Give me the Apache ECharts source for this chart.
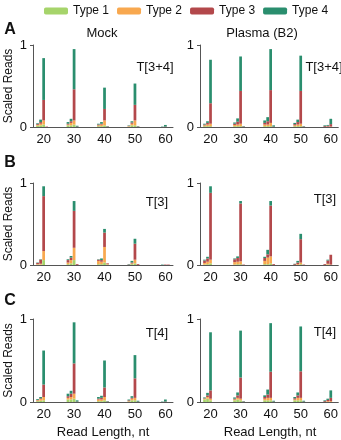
<!DOCTYPE html>
<html>
<head>
<meta charset="utf-8">
<script src="https://cdn.jsdelivr.net/npm/echarts@6/dist/echarts.min.js"></script>
<style>
  html, body { margin: 0; padding: 0; background: #fff; }
  #chart { width: 341px; height: 440px; }
</style>
</head>
<body>
<div id="chart"></div>
<script>
// read lengths shown on the x axis
var categories = ['17','18','19','20','21','22','23','24','25','26','27','28','29','30','31','32','33','34','35','36','37','38','39','40','41','42','43','44','45','46','47','48','49','50','51','52','53','54','55','56','57','58','59','60','61','62'];
// lengths that carry a bar
var positions = [18,19,20,21, 28,29,30,31, 38,39,40,41, 48,49,50,51, 58,59,60,61];
var typeNames = ['Type 1', 'Type 2', 'Type 3', 'Type 4'];
var colors = ['#a6d46b', '#f8a84f', '#b3484b', '#2a8e6e'];

// A  T[3+4]
var mockA_t1 = [.015,.02,.03,0, .02,.02,.03,0, .01,.01,.02,0, .005,.02,.02,0, 0,0,0,0];
var mockA_t2 = [.01,.02,.05,0, .01,.03,.05,0, .01,.02,.06,0, .005,.02,.06,0, 0,0,0,0];
var mockA_t3 = [.01,.02,.25,.005, .01,.02,.38,.005, .01,.01,.14,.005, .005,.015,.19,.005, 0,0,.005,0];
var mockA_t4 = [.01,.03,.51,0, .02,.03,.49,.01, .01,.02,.26,.005, .005,.015,.26,.005, 0,.005,.02,0];
var plasmaA_t1 = [.01,.01,.01,0, .01,.01,.01,0, .01,.01,.01,0, .01,.01,.01,0, 0,0,0,0];
var plasmaA_t2 = [.01,.02,.03,0, .015,.02,.03,0, .02,.02,.04,0, .01,.02,.03,0, 0,.005,.005,0];
var plasmaA_t3 = [.01,.02,.25,0, .015,.035,.40,.005, .02,.04,.40,.005, .015,.03,.40,.005, .01,.01,.03,0];
var plasmaA_t4 = [.01,.02,.53,0, .015,.04,.42,.005, .03,.05,.50,.015, .015,.03,.43,.005, .01,.01,.065,0];

// B  T[3]
var mockB_t1 = [.005,.005,.06,0, .01,.02,.06,0, .01,.01,.03,.005, 0,.01,.02,0, 0,0,0,0];
var mockB_t2 = [.005,.01,.11,0, .02,.04,.15,0, .04,.03,.19,.005, 0,.01,.045,0, 0,0,0,0];
var mockB_t3 = [.015,.05,.67,0, .03,.03,.45,.01, .015,.02,.175,.01, .005,.01,.195,.01, 0,0,.005,.005];
var mockB_t4 = [.005,.005,.12,0, .01,.02,.12,0, .005,.02,.045,0, .005,.02,.06,0, 0,.005,0,0];
var plasmaB_t1 = [.005,.01,.02,0, .005,.01,.01,0, .01,.01,.02,0, 0,0,.01,0, 0,.005,0,0];
var plasmaB_t2 = [.02,.03,.045,0, .03,.03,.035,0, .04,.08,.085,0, 0,.01,.02,0, 0,.01,.005,0];
var plasmaB_t3 = [.03,.04,.815,0, .035,.045,.705,.005, .035,.04,.62,.01, .01,.02,.285,.005, .01,.04,.12,0];
var plasmaB_t4 = [.01,.02,.08,0, .01,.02,.03,0, .015,.055,.055,0, .005,.02,.065,0, 0,.01,0,0];

// C  T[4]
var mockC_t1 = [.01,.015,.02,0, .03,.03,.04,0, .01,.01,.02,0, .005,.02,.02,0, 0,0,0,0];
var mockC_t2 = [.01,.02,.04,0, .02,.03,.06,0, .02,.02,.04,0, .005,.02,.03,0, 0,0,0,0];
var mockC_t3 = [.005,.01,.15,0, .02,.04,.365,.005, .01,.02,.115,.005, .01,.01,.235,.005, 0,0,.005,0];
var mockC_t4 = [.01,.015,.41,0, .03,.035,.495,.015, .02,.025,.325,.005, .01,.02,.28,.01, 0,.005,.025,0];
var plasmaC_t1 = [.03,.04,.02,0, .02,.03,.02,0, .02,.02,.02,0, .02,.02,.02,0, 0,0,0,0];
var plasmaC_t2 = [.01,.02,.02,0, .01,.02,.02,0, .02,.03,.03,0, .01,.03,.03,0, 0,.01,.01,0];
var plasmaC_t3 = [.005,.02,.10,0, .01,.03,.255,.005, .02,.04,.315,.005, .015,.03,.32,.005, .01,.015,.04,0];
var plasmaC_t4 = [.01,.03,.70,0, .015,.035,.565,.005, .02,.06,.585,.01, .015,.035,.54,.01, .01,.015,.09,0];

var panels = [
  { left: 33,  top: 45,  h: 82, data: [mockA_t1, mockA_t2, mockA_t3, mockA_t4] },
  { left: 200, top: 45,  h: 82, data: [plasmaA_t1, plasmaA_t2, plasmaA_t3, plasmaA_t4] },
  { left: 33,  top: 183, h: 82, data: [mockB_t1, mockB_t2, mockB_t3, mockB_t4] },
  { left: 200, top: 183, h: 82, data: [plasmaB_t1, plasmaB_t2, plasmaB_t3, plasmaB_t4] },
  { left: 33,  top: 319, h: 83, data: [mockC_t1, mockC_t2, mockC_t3, mockC_t4] },
  { left: 200, top: 319, h: 83, data: [plasmaC_t1, plasmaC_t2, plasmaC_t3, plasmaC_t4] }
];

function toCategoryData (vals) {
  return categories.map(function (c) {
    var i = positions.indexOf(Number(c));
    return i < 0 ? 0 : vals[i];
  });
}
function isTen (idx, val) { return Number(val) % 10 === 0; }

var font = 'Liberation Sans, Arial, sans-serif';
var grids = [], xAxes = [], yAxes = [], series = [];
panels.forEach(function (p, k) {
  grids.push({ left: p.left, top: p.top, width: 140, height: p.h });
  xAxes.push({
    type: 'category', gridIndex: k, data: categories,
    axisLine: { lineStyle: { color: '#555', width: 1 } },
    axisTick: { interval: isTen, alignWithLabel: true, length: 3, lineStyle: { color: '#555' } },
    axisLabel: { interval: isTen, color: '#111', fontSize: 13, fontFamily: font, margin: 6 }
  });
  yAxes.push({
    type: 'value', gridIndex: k, min: 0, max: 1, interval: 1,
    splitLine: { show: false },
    axisLine: { show: true, lineStyle: { color: '#555', width: 1 } },
    axisTick: { show: true, length: 3, lineStyle: { color: '#555' } },
    axisLabel: { color: '#111', fontSize: 13, fontFamily: font, margin: 6 },
    name: k % 2 === 0 ? 'Scaled Reads' : '',
    nameLocation: 'middle', nameGap: 18,
    nameTextStyle: { color: '#111', fontSize: 12, fontFamily: font }
  });
  p.data.forEach(function (vals, t) {
    series.push({
      name: typeNames[t], type: 'bar', stack: 'p' + k,
      xAxisIndex: k, yAxisIndex: k,
      barCategoryGap: '10%',
      itemStyle: { color: colors[t] },
      silent: true,
      data: toCategoryData(vals)
    });
  });
});

function label (text, x, y, size, bold) {
  return {
    text: text, left: x, top: y, padding: 0, textAlign: 'center',
    textStyle: { fontSize: size, fontWeight: bold ? 'bold' : 'normal', color: '#111', fontFamily: font }
  };
}

var chart = echarts.init(document.getElementById('chart'));
chart.setOption({
  animation: false,
  legend: {
    data: typeNames, left: 39, top: 0, itemWidth: 24, itemHeight: 7, itemGap: 8,
    itemStyle: { borderWidth: 0 },
    textStyle: { fontSize: 12, color: '#111', fontFamily: font }
  },
  title: [
    label('A', 10, 22, 16, true),
    label('B', 10, 155, 16, true),
    label('C', 10, 293, 16, true),
    label('Mock', 102, 27, 13),
    label('Plasma (B2)', 262, 27, 13),
    label('T[3+4]', 155, 61, 13),
    label('T[3+4]', 324, 61, 13),
    label('T[3]', 157, 196, 13),
    label('T[3]', 325, 193, 13),
    label('T[4]', 157, 327, 13),
    label('T[4]', 325, 326, 13),
    label('Read Length, nt', 103, 426, 13),
    label('Read Length, nt', 270, 426, 13)
  ],
  grid: grids,
  xAxis: xAxes,
  yAxis: yAxes,
  series: series
});
</script>
</body>
</html>
